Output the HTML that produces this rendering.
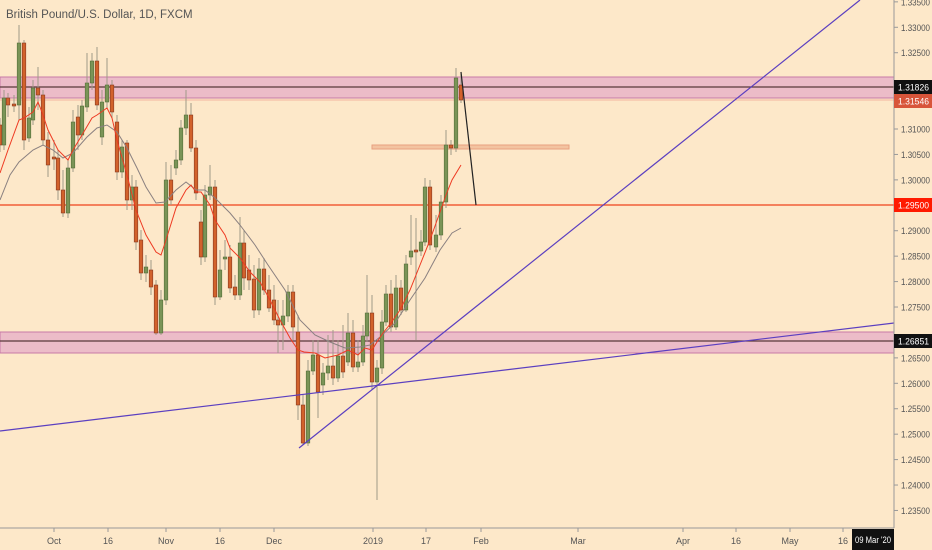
<!DOCTYPE html>
<html><head><meta charset="utf-8"><style>
html,body{margin:0;padding:0;background:#fde8c9;}
svg{display:block;font-family:"Liberation Sans",sans-serif;}
</style></head><body>
<svg id="s" width="932" height="550" xmlns="http://www.w3.org/2000/svg">
<rect width="932" height="550" fill="#fde8c9"/>
<g id="zones">
<rect x="0" y="77" width="894" height="21" fill="#ecbcc8" stroke="#c77aa6" stroke-width="1"/>
<line x1="0" y1="87" x2="894" y2="87" stroke="#5a3a3a" stroke-width="1.3"/>
<line x1="0" y1="100" x2="894" y2="100" stroke="#f2b5a0" stroke-width="1"/>
<rect x="0" y="332" width="894" height="21" fill="#ecbcc8" stroke="#c77aa6" stroke-width="1"/>
<line x1="0" y1="341" x2="894" y2="341" stroke="#5a3a3a" stroke-width="1.3"/>
<rect x="372" y="145" width="197" height="4" fill="#f3c3a0" stroke="#e8a080" stroke-width="1"/>
<line x1="0" y1="205" x2="894" y2="205" stroke="#f0421c" stroke-width="1.2"/>
</g>
<g id="c"></g>
<polyline id="gma" fill="none" stroke="#8a8080" stroke-width="1"/>
<polyline id="rma" fill="none" stroke="#ee3a22" stroke-width="1"/>
<line x1="0" y1="431" x2="894" y2="323" stroke="#5b3fc0" stroke-width="1.2"/>
<line x1="299" y1="448" x2="860" y2="0" stroke="#5b3fc0" stroke-width="1.2"/>
<line x1="461" y1="72" x2="476" y2="205" stroke="#222" stroke-width="1.2"/>
<text x="6" y="18" font-size="11.5" fill="#555">British Pound/U.S. Dollar, 1D, FXCM</text>
<line x1="894" y1="0" x2="894" y2="528" stroke="#999" stroke-width="1"/>
<line x1="0" y1="528" x2="894" y2="528" stroke="#999" stroke-width="1"/>
<g id="ax" font-size="9" fill="#555"></g>
<g font-size="9">
<rect x="894" y="80" width="38" height="14" fill="#111"/><text x="898" y="90.5" fill="#fff" textLength="31" lengthAdjust="spacingAndGlyphs">1.31826</text>
<rect x="894" y="94" width="38" height="14" fill="#d8553a"/><text x="898" y="104.5" fill="#fff" textLength="31" lengthAdjust="spacingAndGlyphs">1.31546</text>
<rect x="894" y="198" width="38" height="14" fill="#ff1a00"/><text x="898" y="208.5" fill="#fff" textLength="31" lengthAdjust="spacingAndGlyphs">1.29500</text>
<rect x="894" y="334" width="38" height="14" fill="#111"/><text x="898" y="344.5" fill="#fff" textLength="31" lengthAdjust="spacingAndGlyphs">1.26851</text>
<rect x="852" y="529" width="42" height="21" fill="#111"/><text x="855" y="543" fill="#fff" textLength="36" lengthAdjust="spacingAndGlyphs">09 Mar '20</text>
</g>
</svg>
<script>
var NS="http://www.w3.org/2000/svg";
function el(t,a,p){var e=document.createElementNS(NS,t);for(var k in a)e.setAttribute(k,a[k]);p.appendChild(e);return e;}
var G='g',R='r';
var d=[[0,125,145,118,152,R],[4,98,145,90,150,G],[8,98,105,93,117,R],[14,104,106,95,112,R],[19,43,105,25,120,G],[24,43,140,40,150,R],[29,118,138,107,142,G],[33,88,120,80,125,G],[38,88,95,67,110,R],[43,95,140,90,145,R],[48,140,165,132,177,R],[54,157,159,140,170,R],[58,158,190,150,200,R],[63,190,213,170,217,R],[68,168,213,160,218,G],[73,122,168,110,172,G],[78,117,135,105,150,R],[82,106,135,100,140,G],[87,83,107,53,112,G],[92,61,83,53,90,G],[97,61,105,47,110,R],[102,102,137,90,145,G],[107,85,102,58,108,G],[112,85,112,80,118,R],[117,122,172,115,180,R],[122,147,172,140,178,G],[127,143,200,140,210,R],[132,187,200,175,210,G],[136,187,242,180,250,R],[141,240,273,230,280,R],[146,267,273,255,282,G],[151,270,287,260,295,R],[156,285,333,280,335,R],[161,300,333,290,335,G],[166,180,300,162,305,G],[171,180,200,165,205,R],[176,160,168,150,175,G],[181,128,160,120,165,G],[186,115,128,90,135,G],[191,115,148,103,152,R],[196,148,193,140,200,R],[201,222,257,210,265,R],[205,195,257,185,262,G],[210,187,195,165,200,G],[215,187,297,180,305,R],[220,270,297,250,300,G],[225,257,259,240,270,G],[230,257,288,245,293,R],[235,287,295,275,300,R],[240,243,295,217,300,G],[244,243,278,230,290,R],[249,270,280,255,290,R],[254,279,310,265,318,R],[259,269,310,258,315,G],[264,269,290,258,295,R],[269,290,308,275,312,R],[274,300,320,285,325,R],[278,320,325,300,353,R],[283,316,325,300,350,G],[288,292,316,285,322,G],[293,292,327,285,340,R],[298,332,405,315,420,R],[303,405,443,395,445,R],[308,371,443,360,446,G],[313,355,371,340,375,G],[318,355,392,340,418,R],[323,373,385,363,395,G],[328,366,373,335,380,G],[333,366,378,330,385,R],[338,356,378,340,382,G],[343,356,372,325,378,R],[348,333,362,313,366,G],[353,333,367,320,372,R],[358,362,367,340,372,G],[363,336,362,325,366,G],[367,313,336,275,342,G],[372,313,382,295,390,R],[377,368,382,360,500,G],[382,322,368,310,374,G],[386,294,322,285,326,G],[391,294,327,280,332,R],[396,288,327,275,330,G],[401,288,310,280,315,R],[406,264,310,255,312,G],[411,251,257,215,265,G],[416,250,252,218,340,R],[421,242,251,230,256,G],[425,187,242,178,246,G],[430,187,245,180,250,R],[436,235,247,215,252,G],[441,202,235,195,240,G],[446,145,202,130,208,G],[451,145,148,140,155,R],[456,78,148,68,152,G],[461,85,100,72,103,R]];
var c=document.getElementById('c');
d.forEach(function(a){
 var x=a[0];
 el('line',{x1:x,y1:a[3],x2:x,y2:a[4],stroke:'#a09a88','stroke-width':1},c);
 var g=a[5]==G;
 el('rect',{x:x-1.8,y:a[1],width:3.6,height:Math.max(1.5,a[2]-a[1]),fill:g?'#7a9457':'#d2622c',stroke:g?'#55703a':'#8a3a20','stroke-width':0.6},c);
});
var rma=[[0,173],[8,150],[19,120],[24,118],[33,112],[38,102],[43,115],[48,130],[58,150],[68,160],[73,150],[82,135],[92,118],[97,115],[107,108],[112,118],[117,140],[127,175],[136,210],[146,235],[156,252],[161,255],[166,240],[176,208],[186,190],[191,185],[196,192],[201,192],[210,205],[215,220],[225,235],[230,248],[240,258],[250,272],[260,282],[270,300],[280,320],[290,338],[298,350],[304,352],[315,353],[325,358],[338,355],[348,350],[358,355],[365,348],[372,350],[377,342],[383,333],[391,323],[400,310],[410,290],[420,265],[430,240],[440,212],[446,195],[452,180],[461,165]];
var gma=[[0,200],[10,175],[19,162],[33,150],[43,145],[53,150],[63,158],[73,153],[87,137],[97,128],[107,125],[117,132],[127,148],[137,168],[146,187],[156,203],[165,202],[176,190],[186,182],[196,190],[205,190],[215,198],[230,213],[240,225],[255,245],[268,265],[285,290],[300,320],[315,335],[330,342],[345,348],[360,347],[370,345],[380,337],[395,323],[410,300],[425,278],[440,250],[452,233],[461,228]];
document.getElementById('rma').setAttribute('points',rma.join(' '));
document.getElementById('gma').setAttribute('points',gma.join(' '));
var ax=document.getElementById('ax');
for(var i=0;i<21;i++){
 var p=1.335-i*0.005;var y=87+(1.31826-p)*5086;
 if(Math.abs(y-87)<9||Math.abs(y-101)<9||Math.abs(y-205)<9||Math.abs(y-341)<9)continue;
 el('line',{x1:894,y1:y,x2:898,y2:y,stroke:'#999'},ax);
 var t=el('text',{x:901,y:y+3.5,textLength:29,lengthAdjust:'spacingAndGlyphs'},ax);t.textContent=p.toFixed(5);
}
[[54,'Oct'],[108,'16'],[166,'Nov'],[220,'16'],[274,'Dec'],[373,'2019'],[426,'17'],[481,'Feb'],[578,'Mar'],[683,'Apr'],[736,'16'],[790,'May'],[843,'16']].forEach(function(a){
 el('line',{x1:a[0],y1:528,x2:a[0],y2:532,stroke:'#999'},ax);
 var t=el('text',{x:a[0],y:544,'text-anchor':'middle'},ax);t.textContent=a[1];
});
</script>
</body></html>
